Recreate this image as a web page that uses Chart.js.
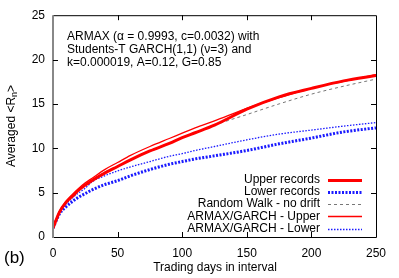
<!DOCTYPE html>
<html>
<head>
<meta charset="utf-8">
<script src="https://cdn.jsdelivr.net/npm/chart.js@4.4.0/dist/chart.umd.min.js"></script>
<style>
  html, body { margin: 0; padding: 0; background: #fff; }
  #wrap { width: 399px; height: 278px; }
</style>
</head>
<body>
<div id="wrap"><canvas id="records-chart" width="399" height="278"></canvas></div>
<script>
// values
const days = [0, 5, 10, 15, 20, 25, 30, 40, 50, 60, 75, 90, 100, 110, 125, 150, 175, 200, 225, 250];
const upperRecords = [1.0, 2.8, 3.9, 4.6, 5.3, 5.85, 6.35, 7.2, 7.95, 8.7, 9.7, 10.55, 11.2, 11.75, 12.6, 14.4, 15.8, 16.75, 17.6, 18.2];
const lowerRecords = [1.0, 2.6, 3.4, 4.0, 4.5, 4.9, 5.3, 5.9, 6.35, 6.9, 7.6, 8.2, 8.5, 8.8, 9.15, 9.75, 10.5, 11.15, 11.85, 12.3];
const randomWalk = [1.0, 2.9, 3.9, 4.6, 5.3, 5.9, 6.4, 7.3, 8.0, 8.7, 9.7, 10.6, 11.2, 11.7, 12.6, 13.8, 15.0, 16.1, 17.0, 17.8];
const armaxUpper = [1.0, 2.9, 4.0, 4.8, 5.5, 6.1, 6.6, 7.6, 8.4, 9.2, 10.2, 11.1, 11.7, 12.3, 13.1, 14.5, 15.7, 16.75, 17.55, 18.3];
const armaxLower = [1.0, 2.8, 3.7, 4.4, 5.0, 5.5, 6.2, 6.9, 7.45, 7.9, 8.5, 9.1, 9.4, 9.75, 10.2, 10.95, 11.6, 12.05, 12.5, 12.9];
const xTicks = [0, 50, 100, 150, 200, 250];
const yTicks = [0, 5, 10, 15, 20, 25];

const FONT = "'Liberation Sans', Arial, sans-serif";

const toPoints = (vals) => days.map((d, i) => ({ x: d, y: vals[i] }));

const annotation = [
  "ARMAX (\u03b1 = 0.9993, c=0.0032) with",
  "Students-T GARCH(1,1) (\u03bd=3) and",
  "k=0.000019, A=0.12, G=0.85",
];

// frame, inward ticks, texts and legend like the gnuplot original
const decorations = {
  id: "decorations",
  afterDatasetsDraw(chart) {
    const ctx = chart.ctx;
    const { left, right, top, bottom } = chart.chartArea;
    const xs = chart.scales.x;
    const ys = chart.scales.y;
    ctx.save();

    // frame
    ctx.strokeStyle = "#000";
    ctx.lineWidth = 1;
    ctx.beginPath();
    ctx.moveTo(left, top + 0.5);
    ctx.lineTo(right + 0.5, top + 0.5);
    ctx.lineTo(right + 0.5, bottom + 0.5);
    ctx.lineTo(left, bottom + 0.5);
    ctx.stroke();
    ctx.strokeStyle = "#888";
    ctx.lineWidth = 2;
    ctx.beginPath();
    ctx.moveTo(left, top);
    ctx.lineTo(left, bottom + 1);
    ctx.stroke();

    // inward ticks
    ctx.strokeStyle = "#000";
    ctx.lineWidth = 1;
    ctx.beginPath();
    xTicks.forEach((t) => {
      const px = Math.round(xs.getPixelForValue(t)) + 0.5;
      if (t > 0 && t < 250) {
        ctx.moveTo(px, bottom);
        ctx.lineTo(px, bottom - 5);
        ctx.moveTo(px, top);
        ctx.lineTo(px, top + 5);
      }
    });
    yTicks.forEach((t) => {
      const py = Math.round(ys.getPixelForValue(t)) + 0.5;
      if (t > 0 && t < 25) {
        ctx.moveTo(left, py);
        ctx.lineTo(left + 5, py);
        ctx.moveTo(right, py);
        ctx.lineTo(right - 5, py);
      }
    });
    ctx.stroke();

    // annotation text
    ctx.fillStyle = "#000";
    ctx.font = "12px " + FONT;
    ctx.textAlign = "left";
    ctx.textBaseline = "alphabetic";
    annotation.forEach((line, i) => {
      ctx.fillText(line, 67, 39.5 + i * 13.3);
    });

    // legend
    const rows = chart.data.datasets;
    ctx.textAlign = "right";
    ctx.textBaseline = "middle";
    rows.forEach((ds, i) => {
      const y = 179.5 + i * 12.3;
      ctx.fillStyle = "#000";
      ctx.fillText(ds.label, 320, y);
      ctx.strokeStyle = ds.borderColor;
      ctx.lineWidth = ds.borderWidth;
      ctx.setLineDash(ds.borderDash || []);
      ctx.beginPath();
      ctx.moveTo(328, Math.round(y) + 0.5);
      ctx.lineTo(362, Math.round(y) + 0.5);
      ctx.stroke();
    });
    ctx.setLineDash([]);

    // x axis title
    ctx.fillStyle = "#000";
    ctx.textAlign = "center";
    ctx.textBaseline = "middle";
    ctx.fillText("Trading days in interval", 215, 268);

    // panel label
    ctx.font = "17px " + FONT;
    ctx.textAlign = "left";
    ctx.fillText("(b)", 4, 258);

    // y axis title with subscript
    ctx.translate(12, 126);
    ctx.rotate(-Math.PI / 2);
    ctx.textBaseline = "middle";
    ctx.font = "12px " + FONT;
    const a = "Averaged <R";
    const b = "n";
    const c = ">";
    const wa = ctx.measureText(a).width;
    const wc = ctx.measureText(c).width;
    ctx.font = "9px " + FONT;
    const wb = ctx.measureText(b).width;
    const total = wa + wb + wc;
    let x0 = -total / 2;
    ctx.font = "12px " + FONT;
    ctx.fillText(a, x0, 0);
    ctx.font = "9px " + FONT;
    ctx.fillText(b, x0 + wa, 3);
    ctx.font = "12px " + FONT;
    ctx.fillText(c, x0 + wa + wb, 0);
    ctx.restore();
  },
};

new Chart(document.getElementById("records-chart"), {
  type: "line",
  data: {
    datasets: [
      {
        label: "Upper records",
        data: toPoints(upperRecords),
        borderColor: "#ff0000",
        borderWidth: 3,
      },
      {
        label: "Lower records",
        data: toPoints(lowerRecords),
        borderColor: "#1a1aff",
        borderWidth: 3,
        borderDash: [2, 1.5],
      },
      {
        label: "Random Walk - no drift",
        data: toPoints(randomWalk),
        borderColor: "#777777",
        borderWidth: 1,
        borderDash: [3, 3],
      },
      {
        label: "ARMAX/GARCH - Upper",
        data: toPoints(armaxUpper),
        borderColor: "#ff0000",
        borderWidth: 1.3,
      },
      {
        label: "ARMAX/GARCH - Lower",
        data: toPoints(armaxLower),
        borderColor: "#1a1aff",
        borderWidth: 1.3,
        borderDash: [1.5, 1.5],
      },
    ],
  },
  options: {
    responsive: false,
    animation: false,
    layout: { padding: { top: 15, right: 23, left: 0, bottom: 0 } },
    elements: {
      point: { radius: 0 },
      line: { tension: 0.4, cubicInterpolationMode: "monotone", fill: false },
    },
    plugins: {
      legend: { display: false },
      tooltip: { enabled: false },
    },
    scales: {
      x: {
        type: "linear",
        min: 0,
        max: 250,
        ticks: { stepSize: 50, padding: 9, color: "#000", font: { family: FONT, size: 12 }, maxRotation: 0 },
        grid: { display: false, drawTicks: false },
        border: { display: false },
        afterFit: (scale) => { scale.height = 41; },
      },
      y: {
        min: 0,
        max: 25,
        ticks: { stepSize: 5, padding: 8, color: "#000", font: { family: FONT, size: 12 } },
        grid: { display: false, drawTicks: false },
        border: { display: false },
        afterFit: (scale) => { scale.width = 53; },
      },
    },
  },
  plugins: [decorations],
});
</script>
</body>
</html>
